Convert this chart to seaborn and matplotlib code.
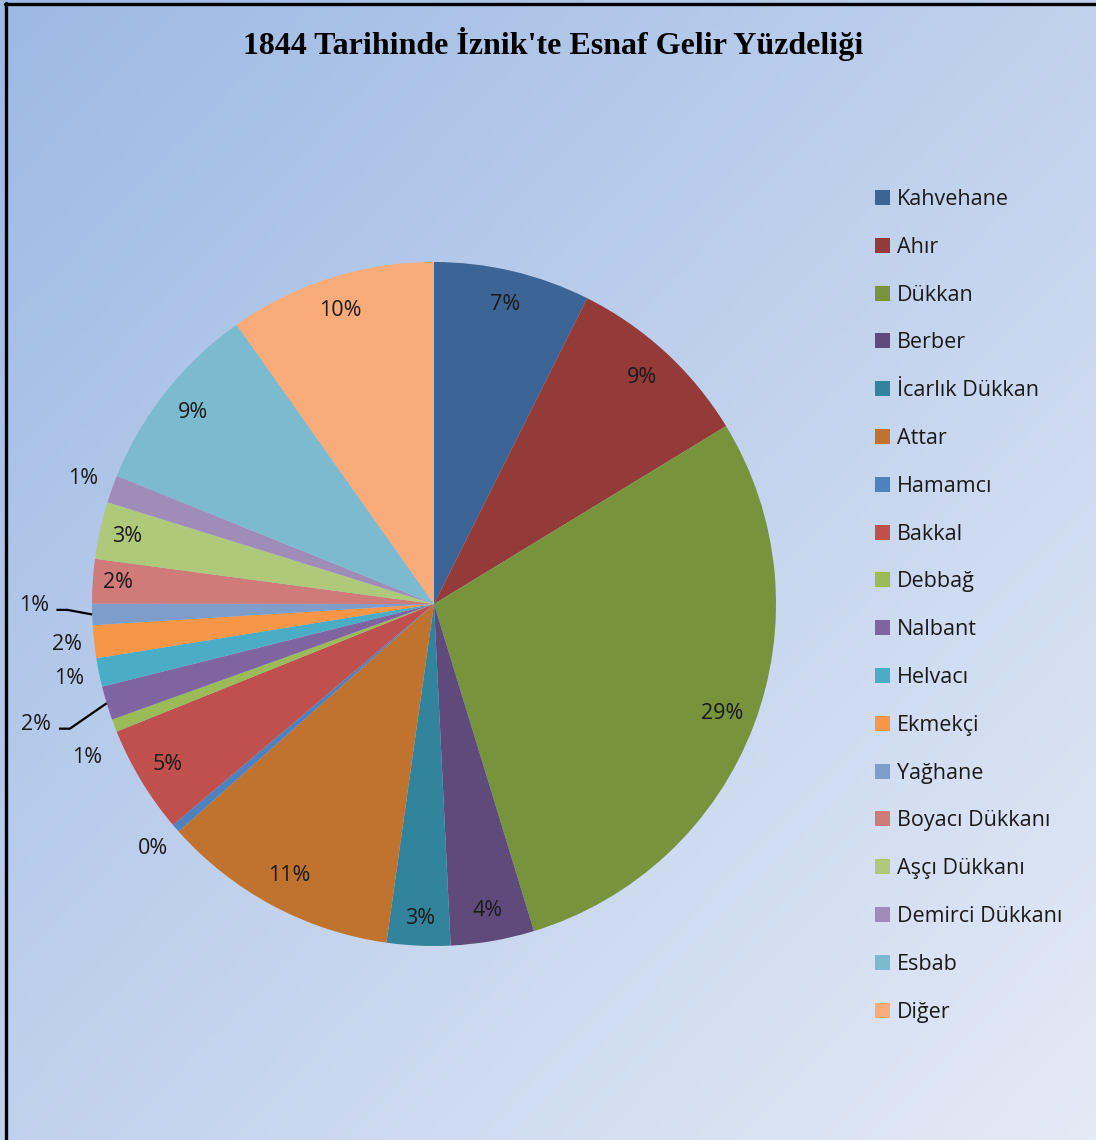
import numpy as np
import matplotlib
matplotlib.use("Agg")
import matplotlib.pyplot as plt
import seaborn as sns

sns.set_style("white")
plt.rcParams["font.family"] = ["Open Sans", "DejaVu Sans"]

categories = ["Kahvehane", "Ahır", "Dükkan", "Berber", "İcarlık Dükkan", "Attar",
              "Hamamcı", "Bakkal", "Debbağ", "Nalbant", "Helvacı", "Ekmekçi",
              "Yağhane", "Boyacı Dükkanı", "Aşçı Dükkanı", "Demirci Dükkanı",
              "Esbab", "Diğer"]
shares = [7.4, 8.9, 29.0, 3.95, 3.0, 11.2,
          0.4, 5.1, 0.6, 1.6, 1.35, 1.55,
          1.0, 2.1, 2.7, 1.3, 9.1, 9.8]
colors = ["#3c6494", "#943a38", "#77933c", "#604a7b", "#31849b", "#c0722f",
          "#4f81bd", "#c0504d", "#9bbb59", "#8064a2", "#4bacc6", "#f79646",
          "#7f9dcb", "#cf7b79", "#afc97a", "#a08cb8", "#7cbbcf", "#f9ab79"]
# how far from the centre each percent label sits (1 = rim), and a small turn in degrees
label_r = [0.9, 0.9, 0.9, 0.91, 0.92, 0.9,
           1.09, 0.91, 1.11, 1.215, 1.09, 1.08,
           1.17, 0.925, 0.92, 1.09, 0.9, 0.9]
label_turn = [0] * 8 + [3.0] + [0] * 3 + [-1.5] + [0] * 5
leader = [False] * 9 + [True] + [False] * 2 + [True] + [False] * 5

W, H = 1096, 1140
fig = plt.figure(figsize=(W / 100, H / 100), dpi=100)

# gradient background
bg = fig.add_axes([0, 0, 1, 1])
xx, yy = np.meshgrid(np.linspace(0, 1, 300), np.linspace(0, 1, 300))
t = (xx + yy) / 2
c0 = np.array([157, 185, 228]) / 255
c1 = np.array([228, 234, 246]) / 255
img = c0[None, None, :] * (1 - t[..., None]) + c1[None, None, :] * t[..., None]
bg.imshow(img, extent=[0, 1, 0, 1], aspect="auto", origin="upper")
bg.set_axis_off()

# border lines (top and left)
fig.add_artist(plt.Line2D([5 / W, 1], [1 - 4 / H, 1 - 4 / H], color="black", lw=2.4))
fig.add_artist(plt.Line2D([6 / W, 6 / W], [0, 1 - 3 / H], color="black", lw=2.4))

cx, cy, r = 434, 604, 342
ax = fig.add_axes([(cx - r) / W, (H - cy - r) / H, 2 * r / W, 2 * r / H])
ax.patch.set_alpha(0)
wedges, _ = ax.pie(shares, colors=colors, startangle=90, counterclock=False,
                   radius=1.0, wedgeprops=dict(linewidth=0))
ax.set_xlim(-1, 1)
ax.set_ylim(-1, 1)
ax.set_aspect("equal")
ax.set_axis_off()

total = sum(shares)
for w, v, d, turn, lead in zip(wedges, shares, label_r, label_turn, leader):
    mid = np.deg2rad((w.theta1 + w.theta2) / 2)
    ang = mid + np.deg2rad(turn)
    tx, ty = d * np.cos(ang), d * np.sin(ang)
    ax.text(tx, ty, f"{100 * v / total:.0f}%", ha="center", va="center",
            fontsize=15.5, color="#1a1a1a", clip_on=False)
    if lead:
        ly = ty - 0.012
        ex, ey = np.cos(mid), np.sin(mid)
        ax.plot([tx + 0.066, tx + 0.098, ex], [ly, ly, ey], color="black",
                lw=1.6, clip_on=False, solid_capstyle="butt")

fig.legend(wedges, categories, loc="upper left", bbox_to_anchor=(875 / W, 1 - 189 / H),
           frameon=False, fontsize=15.5, handlelength=0.7, handleheight=0.7,
           handletextpad=0.3, labelspacing=1.245, borderpad=0, borderaxespad=0,
           labelcolor="#1a1a1a")

fig.text(553 / W, 1 - 44 / H, "1844 Tarihinde İznik'te Esnaf Gelir Yüzdeliği",
         ha="center", va="center", fontsize=23, fontweight="bold",
         family=["Liberation Serif", "DejaVu Serif"], color="black")

fig.savefig("out.png", dpi=100)
